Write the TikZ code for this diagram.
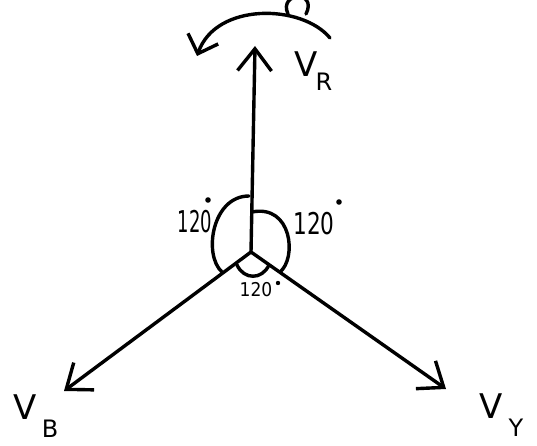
\documentclass[tikz,border=0pt]{standalone}
\usepackage{fontspec}
\setmainfont{DejaVu Sans}
\usetikzlibrary{arrows.meta}
\tikzset{
  pen/.style={line width=3.4pt, line cap=round, line join=round},
  phasor/.style={pen, -{Straight Barb[length=22pt,width=34pt,line width=3.4pt]}},
  lab/.style={inner sep=0pt, font=\fontsize{34}{36}\selectfont},
  sub/.style={inner sep=0pt, font=\fontsize{24}{26}\selectfont},
  ang/.style={inner sep=0pt, font=\fontsize{30}{32}\selectfont},
  degdot/.style={fill=black},
}
\begin{document}
\begin{tikzpicture}[x=1pt,y=-1pt]
\useasboundingbox (0,0) rectangle (537,446);
\fill[white] (0,0) rectangle (537,446);
\coordinate (O) at (251,252);
\coordinate (R) at (255,46);
\coordinate (B) at (64,391);
\coordinate (Y) at (446,389);
\draw[phasor] (O) -- (R);
\draw[phasor] (O) -- (B);
\draw[phasor] (O) -- (Y);
% angle arcs
\draw[pen] (249,196) .. controls (212,196) and (203,255) .. (222,272);
\draw[pen] (252,212) .. controls (292,204) and (297,258) .. (280,272);
\draw[pen] (237,265) .. controls (244,280) and (262,280) .. (269,265);
% rotation arrow on top
\draw[pen, -{Straight Barb[length=16pt,width=32pt,line width=3.4pt]}] (330,38) .. controls (302,4) and (216,2) .. (197,56);
\draw[pen] (288,14) .. controls (278,-8) and (318,-10) .. (306,14);
% labels
\node[lab] (lR) at (306,64) {V};
\node[sub] (sR) at (324,82) {R};
\node[lab] (lB) at (25,407) {V};
\node[sub] (sB) at (50,429) {B};
\node[lab] (lY) at (491,406) {V};
\node[sub] (sY) at (516,428) {Y};
\node[ang] (a1) at (195,222) {\scalebox{0.6}[1]{120}};
\node[ang] (a2) at (314,224) {\scalebox{0.72}[1]{120}};
\node[inner sep=0pt, font=\fontsize{19}{20}\selectfont] (a3) at (256,290) {\scalebox{0.9}[1]{120}};
\fill[degdot] (208,200) circle (2.8pt);
\fill[degdot] (339,202) circle (2.8pt);
\fill[degdot] (278,283) circle (2.2pt);
\end{tikzpicture}
\end{document}
